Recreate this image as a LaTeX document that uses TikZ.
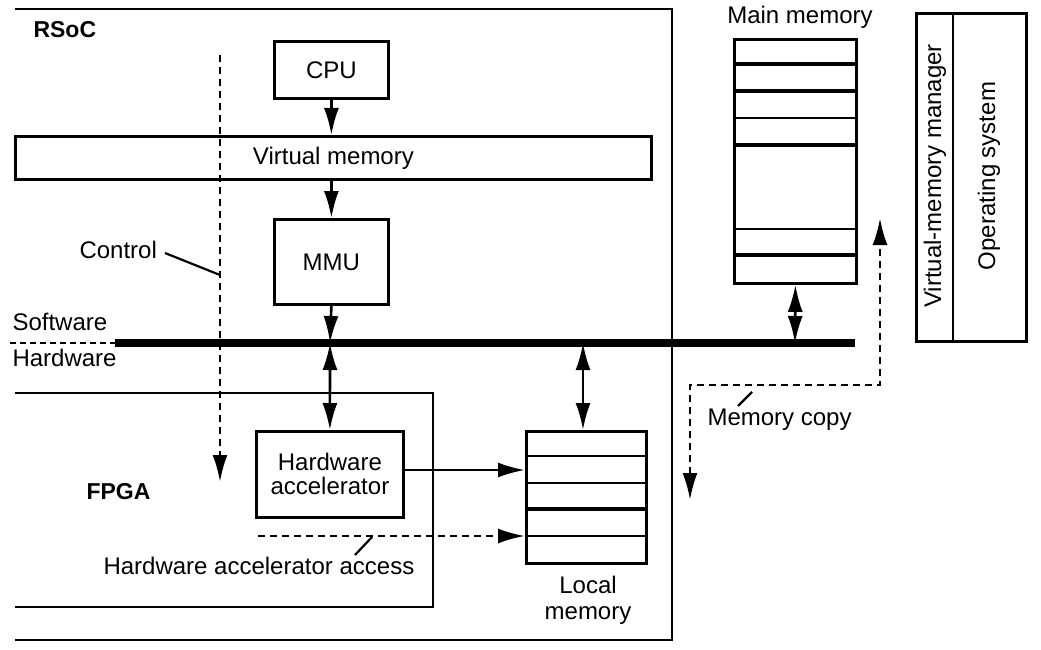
\documentclass[tikz,border=0pt]{standalone}
\usepackage{fontspec}
\setmainfont{Liberation Sans}
\usetikzlibrary{arrows.meta}
\begin{document}
\begin{tikzpicture}[x=1pt,y=-1pt,
  >={Latex[length=27pt,width=15pt]},
  every node/.style={font=\fontsize{24}{28}\selectfont},
  box/.style={draw,line width=2.8pt,inner sep=0pt,anchor=north west},
  frame/.style={line width=2.8pt},
  ar/.style={line width=2.6pt,->},
  dar/.style={line width=2.6pt,<->},
  dsh/.style={line width=2.6pt,dash pattern=on 7pt off 5pt},
  lead/.style={line width=2.2pt}]
\useasboundingbox (0,0) rectangle (1041,650);
% frames
\draw[frame] (15,9) -- (672,9) -- (672,640) -- (15,640);
\draw[frame] (15,393) -- (433,393) -- (433,607) -- (15,607);
\node[anchor=west,font=\fontsize{23}{26}\selectfont\bfseries] (rsoc) at (30,30) {RSoC};
\node[anchor=west,font=\fontsize{23}{26}\selectfont\bfseries] (fpga) at (83,492) {FPGA};
% boxes
\node[box,minimum width=114pt,minimum height=57pt] (cpu) at (273,40) {};
\node at (cpu.center) {CPU};
\node[box,minimum width=636pt,minimum height=43pt] (vm) at (14,135) {};
\node at (vm.center) {Virtual memory};
\node[box,minimum width=114pt,minimum height=85pt] (mmu) at (273,218) {};
\node at (mmu.center) {MMU};
\node[box,minimum width=147pt,minimum height=86pt] (hwa) at (255,430) {};
\node[align=center] at (hwa.center) {Hardware\\[-4pt]accelerator};
% bus
\coordinate (busL) at (115,343);
\coordinate (busR) at (855,343);
\draw[line width=8pt] (busL) -- (busR);
\draw[line width=2.2pt,dash pattern=on 6pt off 4pt] (10,343) -- (busL);
\node[anchor=west] (sw) at (9,322) {Software};
\node[anchor=west] (hw) at (9,358) {Hardware};
\coordinate (b1) at (330,343);
\coordinate (b2) at (583,343);
\coordinate (b3) at (795,343);
% arrows
\draw[ar] (cpu.south) -- (vm.north -| cpu.south);
\draw[ar] (vm.south -| mmu.north) -- (mmu.north);
\draw[ar] (mmu.south) -- (b1);
\draw[dar] (b1) -- (hwa.north);
% local memory
\node[box,minimum width=120pt,minimum height=132pt] (lm) at (525,430) {};
\foreach \y/\w in {456/2.2pt,483/2.2pt,509/3.2pt,536/2.2pt} \draw[line width=\w] (525,\y) -- (645,\y);
\node[align=center] (lml) at (588,600) {Local\\[-2pt]memory};
\draw[dar] (b2) -- (lm.north -| b2);
\draw[ar] (hwa.east |- 0,470) -- (lm.west |- 0,470);
\coordinate (acc0) at (258,536);
\draw[dsh,->] (acc0) -- (lm.west |- 0,536);
\node[anchor=west] (accl) at (100,566) {Hardware accelerator access};
\draw[lead] (355,555) -- (372,537);
% control
\coordinate (c0) at (220,55);
\coordinate (c1) at (220,482);
\draw[dsh,->] (c0) -- (c1);
\node[anchor=west] (ctl) at (76,250) {Control};
\draw[lead] (165,253) -- (220,275);
% main memory
\node[box,minimum width=122pt,minimum height=244pt] (mm) at (733,38) {};
\foreach \y/\w in {64/3.2pt,91/3.2pt,118/2.2pt,145/3.2pt,229/2.2pt,255/3.2pt} \draw[line width=\w] (733,\y) -- (855,\y);
\node (mml) at (800,17) {Main memory};
\draw[dar] (mm.south) -- (b3);
% memory copy
\coordinate (m0) at (690,500);
\coordinate (m1) at (880,218);
\draw[dsh,<->] (m0) -- (690,385) -- (880,385) -- (m1);
\node[anchor=west] (mcl) at (704,420) {Memory copy};
\draw[lead] (738,406) -- (752,392);
% OS
\node[box,minimum width=110pt,minimum height=328pt] (os) at (915,12) {};
\draw[line width=2.8pt] (953,12) -- (953,340);
\node[rotate=90] (vmm) at (935,176) {Virtual-memory manager};
\node[rotate=90] (osl) at (989,176) {Operating system};
\end{tikzpicture}
\end{document}
